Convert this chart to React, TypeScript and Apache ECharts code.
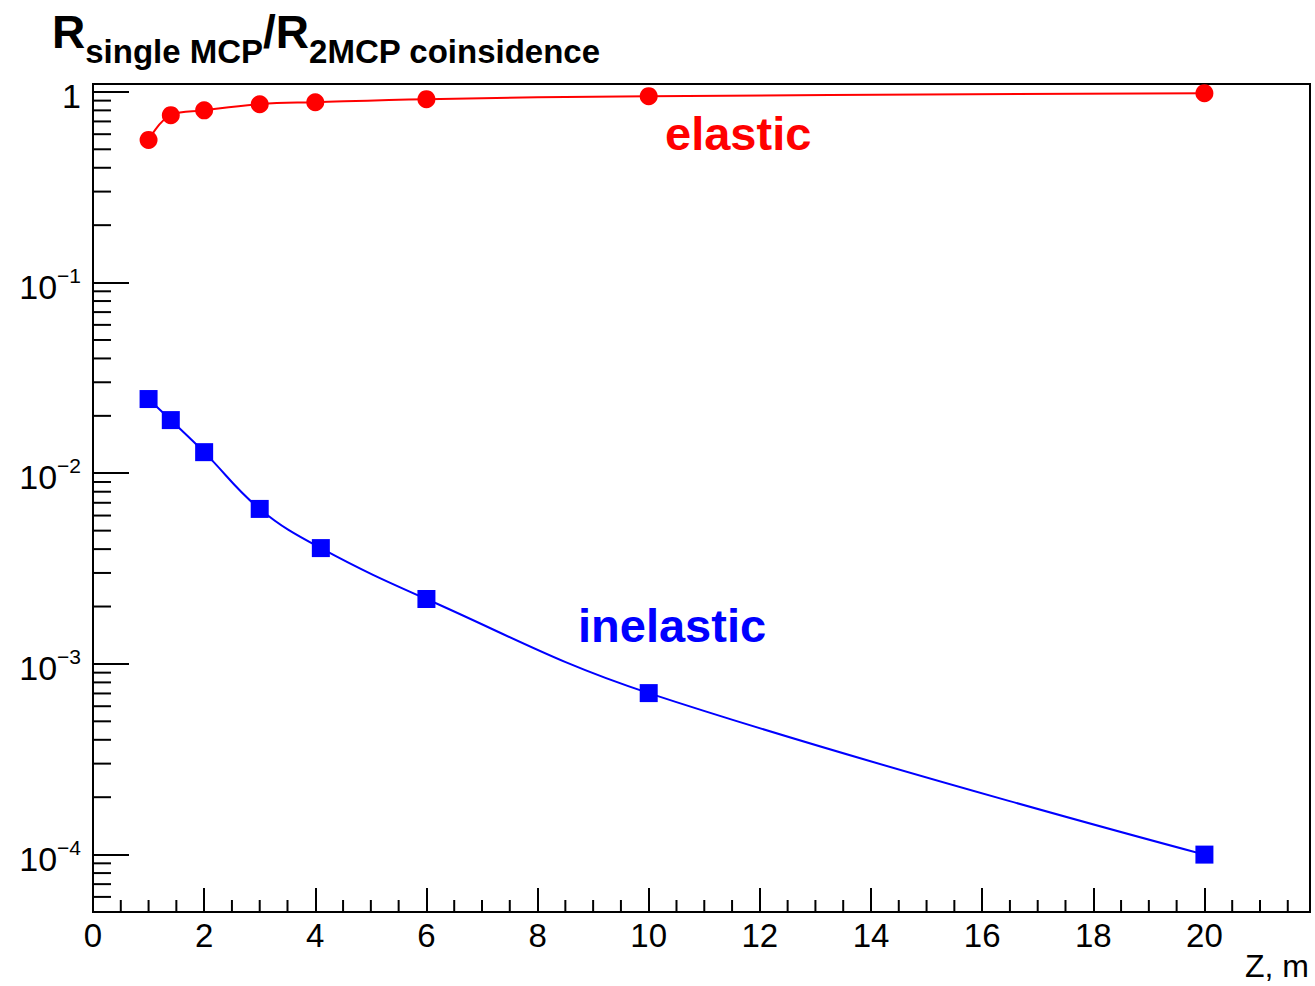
import React, { useEffect, useRef } from "react";
import * as echarts from "echarts";

const zElastic = [1, 1.4, 2, 3, 4, 6, 10, 20];
const rElastic = [0.56, 0.755, 0.8, 0.862, 0.883, 0.916, 0.95, 0.985];
const zInelastic = [1, 1.4, 2, 3, 4.1, 6, 10, 20];
const rInelastic = [0.0245, 0.019, 0.0129, 0.0065, 0.00405, 0.00219, 0.000703, 0.0001];

const xMin = 0;
const xMax = 21.9;
const xInterval = 2;
const yMin = 5e-5;
const yMax = 1.1;
const annotations = ["elastic", "inelastic"];
const xTitle = "Z, m";

const FONT = '"Liberation Sans", Arial, Helvetica, sans-serif';

// minor ticks: 2..9 x 10^k on the log axis, and every 0.5 on the x axis
const yMinorTicks: number[] = [];
for (let e = -5; e <= 0; e++) {
  for (let m = 2; m <= 9; m++) {
    const v = m * Math.pow(10, e);
    if (v > yMin && v < yMax) yMinorTicks.push(v);
  }
}
const xMinorTicks: number[] = [];
for (let x = 0.5; x < xMax; x += 0.5) {
  if (Math.abs(x / 2 - Math.round(x / 2)) > 1e-9) xMinorTicks.push(x);
}

export default function App() {
  const ref = useRef<HTMLDivElement>(null);
  useEffect(() => {
    if (!ref.current) return;
    const chart = echarts.init(ref.current, null, { renderer: "svg" });
    const option: any = {
      animation: false,
      backgroundColor: "#ffffff",
      grid: {
        left: 93,
        right: 5,
        top: 84,
        bottom: 74,
        show: true,
        borderColor: "#000",
        borderWidth: 2,
        containLabel: false,
        outerBoundsMode: "none",
      },
      xAxis: {
        type: "value",
        min: xMin,
        max: xMax,
        interval: xInterval,
        axisLine: { show: true, onZero: false, lineStyle: { color: "#000", width: 2 } },
        axisTick: { show: true, inside: true, length: 24, lineStyle: { color: "#000", width: 2 } },
        splitLine: { show: false },
        axisLabel: {
          showMaxLabel: false,
          margin: 7,
          color: "#000",
          fontFamily: FONT,
          fontSize: 33,
        },
      },
      yAxis: {
        type: "log",
        logBase: 10,
        min: yMin,
        max: yMax,
        axisLine: { show: true, lineStyle: { color: "#000", width: 2 } },
        axisTick: { show: true, inside: true, length: 36, lineStyle: { color: "#000", width: 2 } },
        splitLine: { show: false },
        axisLabel: {
          showMinLabel: false,
          showMaxLabel: false,
          margin: 12,
          padding: [8, 0, 0, 0],
          color: "#000",
          formatter: (v: number) => {
            const e = Math.round(Math.log10(v));
            if (e === 0) return "{b|1}";
            return "{b|10}{s|" + (e < 0 ? "\u2212" : "") + Math.abs(e) + "}";
          },
          rich: {
            b: { fontFamily: FONT, fontSize: 34, lineHeight: 44, color: "#000" },
            s: { fontFamily: FONT, fontSize: 21, lineHeight: 21, verticalAlign: "top", color: "#000" },
          },
        },
      },
      graphic: [
        {
          type: "text",
          left: 52,
          top: 9,
          style: {
            text: "{R|R}{s|single MCP}{R|/R}{s|2MCP coinsidence}",
            rich: {
              R: { fontFamily: FONT, fontWeight: "bold", fontSize: 46, lineHeight: 46, verticalAlign: "top", fill: "#000" },
              s: { fontFamily: FONT, fontWeight: "bold", fontSize: 33, lineHeight: 33, verticalAlign: "top", padding: [26, 0, 0, 0], fill: "#000" },
            },
          },
        },
        {
          type: "text",
          left: 665,
          top: 110,
          style: { text: annotations[0], fill: "#ff0000", font: "bold 47px " + FONT },
        },
        {
          type: "text",
          left: 578,
          top: 602,
          style: { text: annotations[1], fill: "#0000ff", font: "bold 47px " + FONT },
        },
        {
          type: "text",
          right: 6,
          top: 950,
          style: { text: xTitle, fill: "#000", font: "32px " + FONT },
        },
      ],
      series: [
        {
          type: "line",
          name: "elastic",
          data: zElastic.map((z, i) => [z, rElastic[i]]),
          smooth: 0.4,
          symbol: "circle",
          symbolSize: 18,
          itemStyle: { color: "#ff0000" },
          lineStyle: { color: "#ff0000", width: 2 },
          z: 5,
        },
        {
          type: "line",
          name: "inelastic",
          data: zInelastic.map((z, i) => [z, rInelastic[i]]),
          smooth: 0.4,
          symbol: "rect",
          symbolSize: 18,
          itemStyle: { color: "#0000ff" },
          lineStyle: { color: "#0000ff", width: 2 },
          z: 5,
        },
        {
          type: "custom",
          silent: true,
          clip: false,
          data: yMinorTicks.map((v) => [1, v]),
          encode: { x: 0, y: 1 },
          renderItem: (params: any, api: any) => {
            const p = api.coord([xMin, api.value(1)]);
            const cs = params.coordSys;
            return {
              type: "line",
              shape: { x1: cs.x, y1: p[1], x2: cs.x + 18, y2: p[1] },
              style: { stroke: "#000", lineWidth: 2 },
            };
          },
          z: 3,
        },
        {
          type: "custom",
          silent: true,
          clip: false,
          data: xMinorTicks.map((x) => [x, 0.01]),
          encode: { x: 0, y: 1 },
          renderItem: (params: any, api: any) => {
            const p = api.coord([api.value(0), 0.01]);
            const cs = params.coordSys;
            const yb = cs.y + cs.height;
            return {
              type: "line",
              shape: { x1: p[0], y1: yb, x2: p[0], y2: yb - 12 },
              style: { stroke: "#000", lineWidth: 2 },
            };
          },
          z: 3,
        },
      ],
    };
    chart.setOption(option);
    return () => chart.dispose();
  }, []);
  return (
    <div
      ref={ref}
      style={{ position: "absolute", left: 0, top: 0, width: 1315, height: 986, background: "#fff" }}
    />
  );
}
